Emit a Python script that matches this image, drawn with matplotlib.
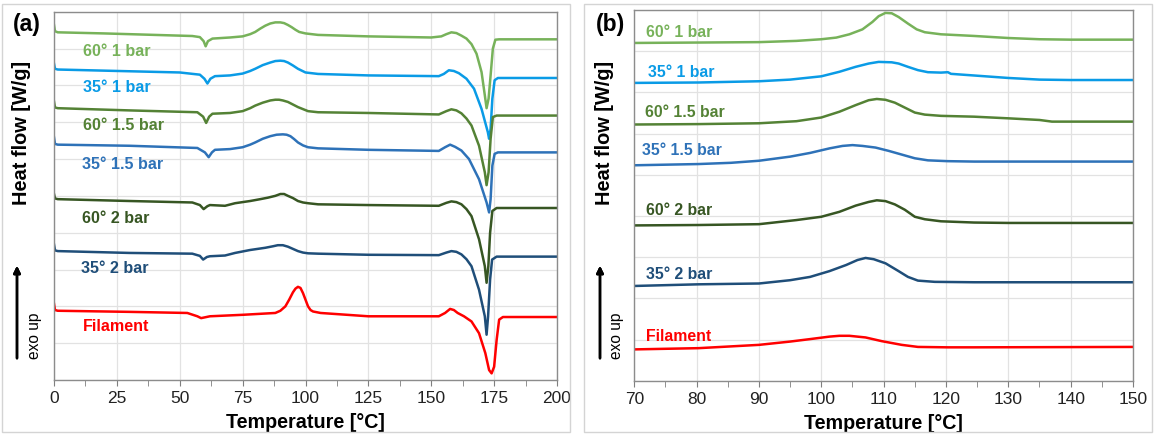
import matplotlib
matplotlib.use("Agg")
import matplotlib.pyplot as plt
from matplotlib.patches import Rectangle

plt.rcParams['font.family'] = ['Liberation Sans', 'DejaVu Sans']

# ---------------- panel (a): full DSC scan, offset curves ----------------
a_t_60_1 = [0, 0.4, 1.5, 20, 40, 55, 58, 59.5, 60.3, 61.2, 63, 70, 75, 78, 80, 82, 84, 86, 88, 90, 91.5, 93,
            94.5, 96, 97.5, 100, 105, 125, 150, 154, 156, 158, 160, 162, 164, 166, 168, 170, 171.3, 172,
            172.8, 173.6, 174.5, 175.5, 177, 200]
a_hf_60_1 = [9.64, 9.47, 9.44, 9.41, 9.37, 9.34, 9.31, 9.2, 9.06, 9.2, 9.27, 9.3, 9.33, 9.39, 9.45, 9.54, 9.62,
             9.68, 9.71, 9.71, 9.69, 9.64, 9.58, 9.51, 9.45, 9.41, 9.37, 9.33, 9.3, 9.33, 9.39, 9.44, 9.42,
             9.35, 9.27, 9.12, 8.86, 8.36, 7.73, 7.38, 7.64, 8.27, 9.0, 9.24, 9.25, 9.25]

a_t_35_1 = [0, 0.4, 1.5, 50, 58, 59.8, 61, 62.2, 64, 70, 75, 78, 80, 83, 86, 88, 90, 91.5, 93, 95, 97, 100,
            105, 125, 153, 155, 157, 159, 161, 164, 167, 170, 172.5, 173, 173.6, 174.3, 175.2, 176.5, 200]
a_hf_35_1 = [8.59, 8.45, 8.43, 8.35, 8.29, 8.18, 8.05, 8.18, 8.25, 8.27, 8.32, 8.39, 8.45, 8.55, 8.62, 8.66,
             8.67, 8.66, 8.62, 8.54, 8.45, 8.35, 8.31, 8.27, 8.25, 8.31, 8.41, 8.39, 8.33, 8.18, 7.91, 7.36,
             6.73, 6.55, 6.82, 7.64, 8.14, 8.2, 8.2]

a_t_60_15 = [0, 0.4, 1.5, 30, 57, 59.3, 60.5, 61.7, 63, 70, 75, 78, 80, 83, 86, 88, 89.5, 91, 93, 95, 97, 101,
             105, 125, 153, 156, 158, 160, 162, 164, 166, 169, 171.3, 172, 172.8, 173.6, 174.5, 176, 200]
a_hf_60_15 = [7.56, 7.4, 7.38, 7.32, 7.27, 7.15, 6.98, 7.15, 7.23, 7.25, 7.3, 7.38, 7.45, 7.53, 7.59, 7.61,
              7.61, 7.59, 7.55, 7.48, 7.41, 7.3, 7.27, 7.25, 7.21, 7.3, 7.35, 7.32, 7.24, 7.1, 6.91, 6.36,
              5.64, 5.29, 5.64, 6.55, 7.14, 7.18, 7.18]

a_t_35_15 = [0, 0.4, 1.5, 30, 57, 60, 61.5, 62.8, 64, 70, 75, 78, 80, 83, 86, 88.5, 91, 92.5, 94, 95.5, 97, 99,
             101, 105, 125, 153, 155.5, 157.5, 159.5, 162, 165, 169, 172, 173, 173.6, 174.3, 175.2, 176.5, 200]
a_hf_35_15 = [6.59, 6.41, 6.39, 6.36, 6.3, 6.18, 6.05, 6.18, 6.25, 6.27, 6.32, 6.39, 6.45, 6.55, 6.62, 6.66,
              6.67, 6.66, 6.62, 6.54, 6.45, 6.37, 6.32, 6.29, 6.25, 6.22, 6.32, 6.39, 6.33, 6.23, 6.0, 5.45,
              4.82, 4.55, 4.91, 5.82, 6.14, 6.18, 6.18]

a_t_60_2 = [0, 0.4, 1.5, 30, 55, 58, 59.5, 61, 62, 68, 72, 78, 82, 85, 88, 90, 91.5, 93, 95, 97, 99, 101, 105,
            125, 153, 156, 158, 160, 162, 164, 166, 169, 171.3, 172, 172.7, 173.4, 174.3, 176, 200]
a_hf_60_2 = [5.05, 4.93, 4.91, 4.86, 4.82, 4.75, 4.64, 4.72, 4.75, 4.73, 4.8, 4.86, 4.91, 4.95, 5.0, 5.05,
             5.05, 5.0, 4.94, 4.86, 4.82, 4.8, 4.77, 4.75, 4.73, 4.81, 4.85, 4.83, 4.77, 4.64, 4.45, 3.82,
             3.09, 2.64, 3.09, 4.0, 4.59, 4.67, 4.67]

a_t_35_2 = [0, 0.4, 1.5, 30, 55, 58, 59.3, 60.8, 62, 68, 72, 78, 81, 84, 87, 89, 91, 93, 95, 97, 99, 101, 105,
            125, 153, 156, 158, 160, 162, 164, 166, 169, 171.3, 172, 172.6, 173.4, 174.2, 176, 200]
a_hf_35_2 = [3.68, 3.52, 3.5, 3.45, 3.43, 3.37, 3.27, 3.34, 3.36, 3.38, 3.45, 3.53, 3.56, 3.59, 3.63, 3.66,
             3.66, 3.62, 3.56, 3.5, 3.46, 3.44, 3.43, 3.4, 3.39, 3.46, 3.5, 3.48, 3.41, 3.28, 3.09, 2.45, 1.73,
             1.23, 1.73, 2.73, 3.27, 3.35, 3.35]

a_t_fil = [0, 0.4, 1.5, 30, 53, 57, 58.5, 62, 75, 88, 90, 92, 93.5, 95, 96, 97, 98, 99, 100, 101, 102, 103,
           106, 125, 153, 155.5, 157.5, 159, 160.5, 163, 166, 169, 171.5, 173, 174, 175, 176, 177, 178.5, 200]
a_hf_fil = [2.07, 1.9, 1.88, 1.85, 1.82, 1.73, 1.68, 1.73, 1.77, 1.82, 1.88, 2.0, 2.18, 2.38, 2.48, 2.53,
            2.5, 2.36, 2.18, 2.0, 1.9, 1.86, 1.82, 1.73, 1.73, 1.82, 1.93, 1.9, 1.82, 1.73, 1.59, 1.27, 0.73,
            0.27, 0.18, 0.36, 1.09, 1.64, 1.71, 1.71]

# ---------------- panel (b): zoom on cold crystallisation ----------------
b_t_60_1 = [70, 80.3, 90, 96, 100, 102.4, 104.5, 106.6, 108.2, 109.2, 110.3, 111.3, 112.4, 113.9, 115.3,
            116.6, 119.2, 124.5, 130, 135, 140, 150]
b_hf_60_1 = [8.2, 8.21, 8.22, 8.25, 8.29, 8.33, 8.41, 8.53, 8.71, 8.85, 8.93, 8.92, 8.83, 8.67, 8.53, 8.46,
             8.41, 8.37, 8.32, 8.29, 8.28, 8.28]

b_t_35_1 = [70, 80.3, 90, 95, 100, 102.9, 105.5, 107.6, 109.2, 111.3, 112.4, 113.9, 115.5, 117.1, 119.2,
            120.3, 120.8, 124.5, 130, 135, 140, 150]
b_hf_35_1 = [7.23, 7.24, 7.27, 7.31, 7.39, 7.5, 7.62, 7.7, 7.74, 7.73, 7.7, 7.62, 7.54, 7.49, 7.48, 7.49,
             7.45, 7.41, 7.35, 7.31, 7.3, 7.3]

b_t_60_15 = [70, 80.3, 90, 96, 100, 102.9, 105.5, 107.6, 108.9, 110.3, 111.8, 113.4, 115, 116.6, 119.2,
             124.5, 130, 135, 137, 140, 150]
b_hf_60_15 = [6.22, 6.23, 6.25, 6.3, 6.39, 6.53, 6.69, 6.81, 6.84, 6.82, 6.75, 6.63, 6.51, 6.46, 6.43, 6.41,
              6.37, 6.33, 6.29, 6.29, 6.29]

b_t_35_15 = [70, 80.3, 85.5, 90, 95, 98.2, 101.3, 103.4, 105, 106.6, 108.7, 110.8, 112.9, 115, 117.1, 120.3,
             124.5, 150]
b_hf_35_15 = [5.23, 5.26, 5.29, 5.34, 5.44, 5.53, 5.64, 5.7, 5.72, 5.7, 5.66, 5.58, 5.49, 5.4, 5.35, 5.33,
              5.32, 5.32]

b_t_60_2 = [70, 80.3, 90, 96, 100, 102.9, 105.5, 107.6, 108.9, 110.3, 111.8, 113.4, 115, 116.6, 119.2,
            124.5, 130, 150]
b_hf_60_2 = [3.77, 3.78, 3.8, 3.9, 3.98, 4.1, 4.25, 4.34, 4.38, 4.36, 4.28, 4.15, 3.98, 3.92, 3.87, 3.84,
             3.83, 3.83]

b_t_35_2 = [70, 80.3, 90, 95, 98.2, 101.3, 104, 105.8, 107.1, 108.4, 110.3, 112.4, 113.9, 115.5, 118.2,
            124.5, 150]
b_hf_35_2 = [2.3, 2.34, 2.36, 2.44, 2.52, 2.66, 2.81, 2.93, 2.98, 2.95, 2.85, 2.66, 2.52, 2.43, 2.4, 2.39,
             2.39]

b_t_fil = [70, 80.3, 90, 95, 98.2, 101.3, 102.9, 104.5, 107.1, 109.7, 112.9, 115.5, 120.3, 124.5, 150]
b_hf_fil = [0.76, 0.79, 0.87, 0.95, 1.01, 1.07, 1.09, 1.09, 1.05, 0.96, 0.87, 0.82, 0.81, 0.81, 0.82]

names = ['60° 1 bar', '35° 1 bar', '60° 1.5 bar', '35° 1.5 bar', '60° 2 bar', '35° 2 bar', 'Filament']
colors = ['#77b25a', '#0a9be6', '#548235', '#2e72b8', '#375623', '#1f4e79', '#ff0000']

a_curves = [(a_t_60_1, a_hf_60_1), (a_t_35_1, a_hf_35_1), (a_t_60_15, a_hf_60_15), (a_t_35_15, a_hf_35_15),
            (a_t_60_2, a_hf_60_2), (a_t_35_2, a_hf_35_2), (a_t_fil, a_hf_fil)]
b_curves = [(b_t_60_1, b_hf_60_1), (b_t_35_1, b_hf_35_1), (b_t_60_15, b_hf_60_15), (b_t_35_15, b_hf_35_15),
            (b_t_60_2, b_hf_60_2), (b_t_35_2, b_hf_35_2), (b_t_fil, b_hf_fil)]

# label anchor positions (left edge, vertical centre)
a_label_x = [11.5, 11.5, 11.5, 11.0, 11.0, 10.8, 11.5]
a_label_y = [8.91, 7.93, 6.90, 5.84, 4.38, 3.04, 1.44]
b_label_x = [71.9, 72.2, 71.7, 71.2, 71.9, 71.9, 71.9]
b_label_y = [8.46, 7.49, 6.50, 5.60, 4.13, 2.57, 1.07]

W, H = 1156, 437
fig = plt.figure(figsize=(W / 100, H / 100), dpi=100)

# light panel frames
fig.add_artist(Rectangle((2 / W, 5 / H), 568 / W, 428 / H, transform=fig.transFigure,
                         fill=False, edgecolor='#d4d4d4', linewidth=1))
fig.add_artist(Rectangle((584 / W, 5 / H), 568 / W, 428 / H, transform=fig.transFigure,
                         fill=False, edgecolor='#d4d4d4', linewidth=1))

ax_a = fig.add_axes([54 / W, (H - 380) / H, 503 / W, 368.3 / H])
ax_b = fig.add_axes([634.3 / W, (H - 380.7) / H, 498.7 / W, 370.7 / H])


def style(ax, xlim, major, minor, ytop):
    ax.set_xlim(*xlim)
    ax.set_ylim(0, ytop)
    ax.set_xticks(range(xlim[0], xlim[1] + 1, major))
    ax.set_xticks([v / 2 for v in range(2 * xlim[0], 2 * xlim[1] + 1, minor)], minor=True)
    ax.set_yticks(range(0, ytop + 1))
    ax.tick_params(axis='y', left=False, labelleft=False)
    ax.tick_params(axis='x', which='both', direction='out', length=4, color='#7f7f7f', labelsize=12.5,
                   labelcolor='#222222', pad=4)
    ax.grid(True, color='#e2e2e2', linewidth=0.9)
    ax.set_axisbelow(True)
    for s in ax.spines.values():
        s.set_color('#8c8c8c')
        s.set_linewidth(1.0)
    ax.set_xlabel('Temperature [°C]', fontsize=14.2, fontweight='bold', labelpad=5)


style(ax_a, (0, 200), 25, 25, 10)
style(ax_b, (70, 150), 10, 10, 9)

for (t, hf), c in zip(a_curves, colors):
    ax_a.plot(t, hf, color=c, linewidth=1.8, solid_joinstyle='round')
for (t, hf), c in zip(b_curves, colors):
    ax_b.plot(t, hf, color=c, linewidth=1.8, solid_joinstyle='round')

for name, c, x, y in zip(names, colors, a_label_x, a_label_y):
    ax_a.text(x, y, name, color=c, fontsize=11.6, fontweight='bold', va='center', ha='left')
for name, c, x, y in zip(names, colors, b_label_x, b_label_y):
    ax_b.text(x, y, name, color=c, fontsize=11.4, fontweight='bold', va='center', ha='left')

# panel letters, y-labels and "exo up" arrows
for x0, letter in [(0, '(a)'), (583, '(b)')]:
    fig.text((x0 + 13) / W, 1 - 25 / H, letter, fontsize=16.5, fontweight='bold', va='center', ha='left')
    fig.text((x0 + 22) / W, 1 - 133 / H, 'Heat flow [W/g]', fontsize=14.4, fontweight='bold',
             rotation=90, va='center', ha='center')
    fig.text((x0 + 34) / W, 1 - 336 / H, 'exo up', fontsize=11.2, rotation=90, va='center', ha='center')
    fig.add_artist(plt.annotate('', xy=((x0 + 17) / W, 1 - 263 / H), xytext=((x0 + 17) / W, 1 - 361 / H),
                                xycoords='figure fraction', textcoords='figure fraction',
                                arrowprops=dict(arrowstyle='-|>', color='black', lw=1.8,
                                                mutation_scale=10)))

fig.savefig('out.png', dpi=100)
